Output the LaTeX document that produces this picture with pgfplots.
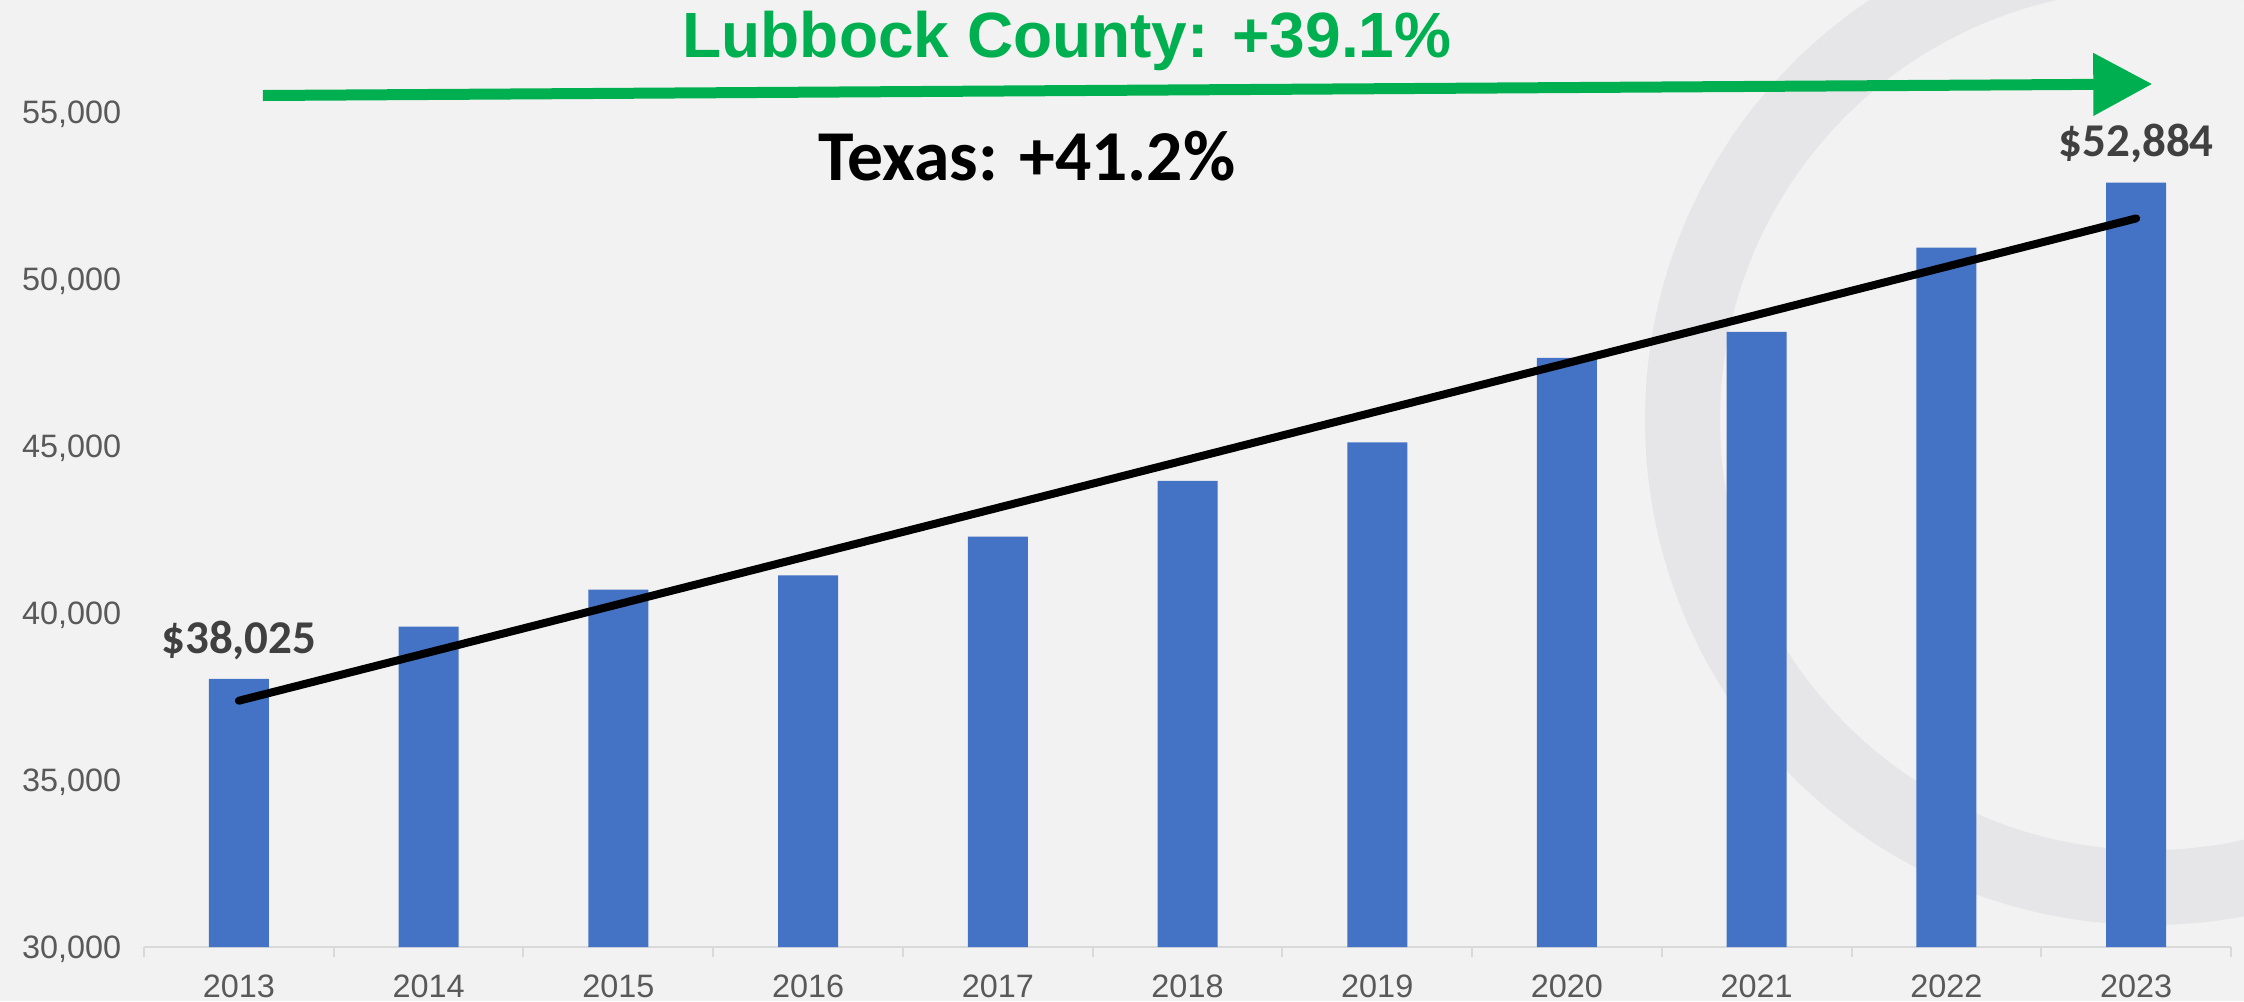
\documentclass[border=0pt]{standalone}
\usepackage{fontspec}
\setmainfont{Liberation Sans}
\newfontfamily\carlito{Carlito}
\usepackage{pgfplots}
\pgfplotsset{compat=1.18}
\usetikzlibrary{arrows.meta}
\definecolor{barblue}{HTML}{4472C4}
\definecolor{lgreen}{HTML}{00B050}
\definecolor{lblgray}{HTML}{404040}
\definecolor{tickgray}{HTML}{595959}
\definecolor{axisgray}{HTML}{D9D9D9}
\definecolor{bg}{HTML}{F2F2F2}
\definecolor{ringc}{HTML}{E6E6E8}
\begin{document}
\begin{tikzpicture}[x=0.25pt,y=0.25pt]
\useasboundingbox (0,0) rectangle (2244,1001);
\fill[bg] (0,0) rectangle (2244,1001);
\begin{scope}
\clip (0,0) rectangle (2244,1001);
\fill[ringc, even odd rule] (2150,581) circle[radius=505] (2150,581) circle[radius=430];
\end{scope}
\begin{axis}[
  at={(36pt,13.5pt)}, anchor=south west,
  scale only axis, width=521.75pt, height=236.75pt,
  xmin=-0.5, xmax=10.5, ymin=30000, ymax=58353,
  clip=false,
  scaled y ticks=false,
  axis x line*=bottom, axis y line*=left,
  y axis line style={draw=none},
  x axis line style={draw=axisgray, line width=0.5pt},
  xtick={0,...,10},
  xticklabels={2013,2014,2015,2016,2017,2018,2019,2020,2021,2022,2023},
  minor xtick={-0.5,0.5,...,10.5},
  ytick={30000,35000,40000,45000,50000,55000},
  major tick length=0pt,
  minor tick length=2.5pt,
  tick align=outside,
  minor tick style={draw=axisgray, line width=0.5pt},
  major tick style={draw=none},
  ticklabel style={font=\fontsize{8.1pt}{9pt}\selectfont, color=tickgray},
  yticklabel={\pgfmathprintnumber[1000 sep={,}, assume math mode=true]{\tick}},
  xticklabel style={anchor=north, inner sep=0pt, yshift=-6.75pt},
  yticklabel style={anchor=base east, inner sep=0pt, xshift=-5.5pt, yshift=-2.9pt},
]
\addplot[ybar, bar width=15pt, fill=barblue, draw=none] coordinates {
  (0,38025) (1,39590) (2,40700) (3,41130) (4,42290) (5,43960)
  (6,45110) (7,47640) (8,48420) (9,50940) (10,52884)
};
\addplot[black, line width=2pt, line cap=round] coordinates {(0,37374) (10,51814)};
\draw[lgreen, line width=2.75pt, -{Triangle[length=14.75pt,width=15pt]}]
  (axis cs:0.127,55494) -- (axis cs:10.085,55838);
\node[lgreen, font=\fontsize{16pt}{18pt}\selectfont\bfseries, anchor=base, inner sep=0pt]
  at (axis cs:4.365,56617) {Lubbock County: +39.1\%};
\node[black, font=\carlito\bfseries\fontsize{17.9pt}{20pt}\selectfont, anchor=base, inner sep=0pt]
  at (axis cs:4.154,52964) {Texas: +41.2\%};
\node[lblgray, font=\carlito\bfseries\fontsize{11.75pt}{13pt}\selectfont, anchor=base, inner sep=0pt]
  at (axis cs:0,38802) {\$38,025};
\node[lblgray, font=\carlito\bfseries\fontsize{11.75pt}{13pt}\selectfont, anchor=base, inner sep=0pt]
  at (axis cs:10,53653) {\$52,884};
\end{axis}
\end{tikzpicture}
\end{document}
